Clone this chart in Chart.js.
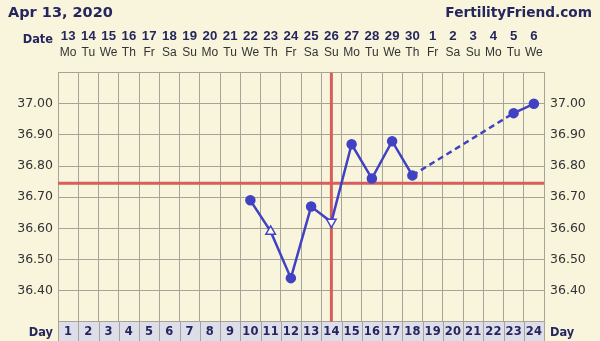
<!DOCTYPE html>
<html>
<head>
<meta charset="utf-8">
<script src="https://cdn.jsdelivr.net/npm/chart.js@4/dist/chart.umd.min.js"></script>
<style>
html,body{margin:0;padding:0;background:#f8f5dc;}
canvas{display:block;}
</style>
</head>
<body>
<canvas id="c" width="600" height="341"></canvas>
<script>
// ---- data ----
const chartDate = 'Apr 13, 2020';
const siteName = 'FertilityFriend.com';
const cycleDays = ['1','2','3','4','5','6','7','8','9','10','11','12','13','14','15','16','17','18','19','20','21','22','23','24'];
const dates = ['13','14','15','16','17','18','19','20','21','22','23','24','25','26','27','28','29','30','1','2','3','4','5','6'];
const weekdays = ['Mo','Tu','We','Th','Fr','Sa','Su','Mo','Tu','We','Th','Fr','Sa','Su','Mo','Tu','We','Th','Fr','Sa','Su','Mo','Tu','We'];
const temps = [null,null,null,null,null,null,null,null,null,36.69,36.59,36.44,36.67,36.62,36.87,36.76,36.88,36.77,null,null,null,null,36.97,37.00];
const openUpDays = ['11'];
const openDownDays = ['14'];
const coverline = 36.745;
const ovulationDay = '14';
const yLabelValues = [36.40,36.50,36.60,36.70,36.80,36.90,37.00];

const NAVY = '#26265e';
const BLUE = '#4141c4';
const RED = '#d65f5b';
const GRID = '#a6a399';
const BG = '#f8f5dc';

const isUp = d => openUpDays.includes(d);
const isDown = d => openDownDays.includes(d);

const deco = {
  id: 'deco',
  beforeDraw(chart) {
    const ctx = chart.ctx, a = chart.chartArea, x = chart.scales.x;
    ctx.save();
    ctx.fillStyle = BG;
    ctx.fillRect(0, 0, chart.width, chart.height);
    // day row cells
    ctx.fillStyle = '#dedeea';
    ctx.fillRect(a.left, a.bottom, a.right - a.left, chart.height - a.bottom);
    ctx.strokeStyle = GRID;
    ctx.lineWidth = 1;
    const half = (x.getPixelForValue(1) - x.getPixelForValue(0)) / 2;
    for (let i = 0; i <= cycleDays.length; i++) {
      const px = Math.round(x.getPixelForValue(Math.min(i, cycleDays.length - 1)) + (i === cycleDays.length ? half : -half)) + 0.5;
      ctx.beginPath();
      ctx.moveTo(px, a.bottom);
      ctx.lineTo(px, chart.height);
      ctx.stroke();
    }
    ctx.restore();
  },
  beforeDatasetsDraw(chart) {
    const ctx = chart.ctx, a = chart.chartArea;
    const yp = chart.scales.y.getPixelForValue(coverline);
    const xp = chart.scales.x.getPixelForValue(cycleDays.indexOf(ovulationDay));
    ctx.save();
    ctx.strokeStyle = RED;
    ctx.lineWidth = 3;
    ctx.beginPath();
    ctx.moveTo(a.left, yp); ctx.lineTo(a.right, yp);
    ctx.moveTo(xp, a.top); ctx.lineTo(xp, a.bottom);
    ctx.stroke();
    ctx.restore();
  },
  afterDraw(chart) {
    const ctx = chart.ctx;
    ctx.save();
    ctx.fillStyle = NAVY;
    ctx.textBaseline = 'alphabetic';
    ctx.font = 'bold 14.5px "DejaVu Sans"';
    ctx.textAlign = 'left';
    ctx.fillText(chartDate, 8, 17);
    ctx.font = 'bold 13.7px "DejaVu Sans"';
    ctx.textAlign = 'right';
    ctx.fillText(siteName, 592, 17);
    ctx.font = 'bold 11.4px "DejaVu Sans"';
    ctx.textAlign = 'right';
    ctx.fillText('Date', 53, 43);
    ctx.fillText('Day', 53, 336);
    ctx.textAlign = 'left';
    ctx.fillText('Day', 550, 336);
    ctx.restore();
  }
};

new Chart(document.getElementById('c'), {
  type: 'line',
  data: {
    labels: cycleDays,
    datasets: [{
      data: temps,
      borderColor: BLUE,
      borderWidth: 2.5,
      spanGaps: true,
      tension: 0,
      segment: {
        borderDash: c => (c.p0.skip || c.p1.skip) ? [6, 4] : undefined
      },
      pointStyle: cycleDays.map(d => (isUp(d) || isDown(d)) ? 'triangle' : 'circle'),
      pointRotation: cycleDays.map(d => isDown(d) ? 180 : 0),
      pointRadius: cycleDays.map(d => (isUp(d) || isDown(d)) ? 5.5 : 4.5),
      pointBackgroundColor: cycleDays.map(d => (isUp(d) || isDown(d)) ? '#fffef6' : BLUE),
      pointBorderColor: BLUE,
      pointBorderWidth: 1.5
    }]
  },
  options: {
    responsive: false,
    animation: false,
    devicePixelRatio: 1,
    layout: { padding: { top: 22, left: 0, right: 0, bottom: 0 } },
    plugins: { legend: { display: false }, tooltip: { enabled: false } },
    scales: {
      x: {
        type: 'category',
        position: 'bottom',
        offset: true,
        grid: { offset: true, color: GRID, lineWidth: 1, drawTicks: false },
        border: { color: GRID },
        ticks: { color: NAVY, font: { family: 'DejaVu Sans', weight: 'bold', size: 11.5 }, padding: 3, maxRotation: 0, autoSkip: false },
        afterFit: s => { s.height = 19.3; }
      },
      xWeek: {
        type: 'category',
        position: 'top',
        weight: 0,
        labels: weekdays,
        offset: true,
        grid: { display: false, drawTicks: false },
        border: { display: false },
        ticks: { color: '#333333', font: { family: 'Liberation Sans', size: 12 }, padding: 13, maxRotation: 0, autoSkip: false },
        afterFit: s => { s.height = 26.7; }
      },
      xDate: {
        type: 'category',
        position: 'top',
        weight: 1,
        labels: dates,
        offset: true,
        grid: { display: false, drawTicks: false },
        border: { display: false },
        ticks: { color: NAVY, font: { family: 'Liberation Sans', weight: 'bold', size: 13.2 }, padding: 1.5, maxRotation: 0, autoSkip: false },
        afterFit: s => { s.height = 24; }
      },
      y: {
        position: 'left',
        min: 36.30,
        max: 37.10,
        grid: { color: GRID, lineWidth: 1, drawTicks: false },
        border: { color: GRID },
        ticks: {
          stepSize: 0.05,
          color: '#333333',
          padding: 5,
          font: { family: 'DejaVu Sans', size: 12.5 },
          callback: v => yLabelValues.some(t => Math.abs(t - v) < 1e-6) ? Number(v).toFixed(2) : ''
        },
        afterFit: s => { s.width = 58; }
      },
      yR: {
        position: 'right',
        min: 36.30,
        max: 37.10,
        grid: { display: false, drawTicks: false },
        border: { color: GRID },
        ticks: {
          stepSize: 0.05,
          color: '#333333',
          padding: 6,
          font: { family: 'DejaVu Sans', size: 12.5 },
          callback: v => yLabelValues.some(t => Math.abs(t - v) < 1e-6) ? Number(v).toFixed(2) : ''
        },
        afterFit: s => { s.width = 56; }
      }
    }
  },
  plugins: [deco]
});
</script>
</body>
</html>
